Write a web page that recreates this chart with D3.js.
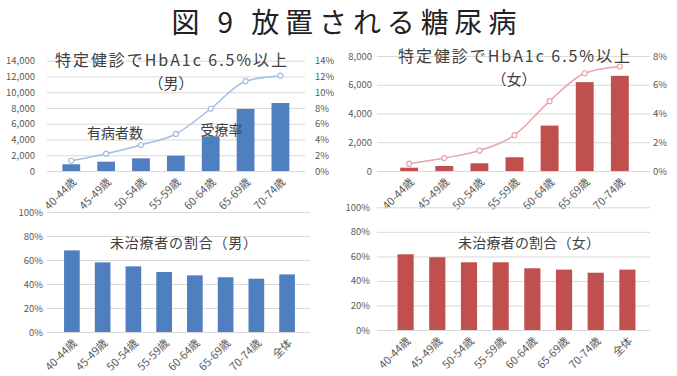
<!DOCTYPE html>
<html>
<head>
<meta charset="utf-8">
<script src="https://cdn.jsdelivr.net/npm/d3@7"></script>
<style>
  body { margin: 0; background: #fff; }
  text { font-family: "Noto Sans CJK JP", "Noto Sans", sans-serif; }
</style>
</head>
<body>
<script>
// ---- data ----
var ages7 = ["40-44歳","45-49歳","50-54歳","55-59歳","60-64歳","65-69歳","70-74歳"];
var ages8 = ["40-44歳","45-49歳","50-54歳","55-59歳","60-64歳","65-69歳","70-74歳","全体"];

var maleCount = [850, 1180, 1610, 1940, 4400, 7870, 8630];
var maleRate = [0.013, 0.022, 0.033, 0.047, 0.079, 0.114, 0.121];
var femaleCount = [230, 350, 535, 955, 3160, 6180, 6620];
var femaleRate = [0.0051, 0.009, 0.0142, 0.0249, 0.0486, 0.068, 0.0727];

var maleUntreated = [0.68, 0.58, 0.547, 0.50, 0.472, 0.456, 0.444, 0.48];
var femaleUntreated = [0.617, 0.593, 0.552, 0.552, 0.503, 0.492, 0.467, 0.492];

var BLUE = "#4f7fbf", RED = "#c0504d";
var BLUE_LINE = "#a3bde6", RED_LINE = "#e8a3a8";
var GRID = "#d9d9d9", TICK = "#595959";

var W = 677, H = 376;
var svg = d3.select("body").append("svg").attr("width", W).attr("height", H);

svg.append("text").attr("x", 344).attr("y", 33)
    .attr("text-anchor", "middle").attr("font-size", 28)
    .attr("textLength", 345).attr("fill", "#222")
    .text("図 9 放置される糖尿病");

//==============================================================================

function styleAxis(g) {
    g.select(".domain").remove();
    g.selectAll(".tick line").attr("stroke", GRID).attr("stroke-width", 1);
    g.selectAll(".tick text").attr("fill", TICK).attr("font-size", 9.5);
}

function styleXAxis(g) {
    g.select(".domain").remove();
    g.selectAll(".tick text").attr("fill", TICK).attr("font-size", 11)
        .attr("text-anchor", "end").attr("dy", "0.35em")
        .attr("transform", "translate(3,9) rotate(-45)");
}

function drawCombo(p) {
    var x = d3.scaleBand().domain(ages7).range(p.xr).padding(0.49);
    var yL = d3.scaleLinear().domain([0, p.maxL]).range([p.y0, p.y1]);
    var yR = d3.scaleLinear().domain([0, p.maxR]).range([p.y0, p.y1]);
    var gw = p.gx[1] - p.gx[0];

    var gl = svg.append("g").attr("transform", "translate(" + p.gx[0] + ",0)")
        .call(d3.axisLeft(yL).ticks(p.maxL / 2000).tickSize(-gw).tickPadding(p.padL).tickFormat(d3.format(",")));
    styleAxis(gl);

    var gr = svg.append("g").attr("transform", "translate(" + p.gx[1] + ",0)")
        .call(d3.axisRight(yR).ticks(p.maxR / 0.02).tickSize(0).tickPadding(p.padR).tickFormat(d3.format(".0%")));
    styleAxis(gr);

    svg.append("g").selectAll("rect").data(p.counts).join("rect")
        .attr("x", function(d, i) { return x(ages7[i]); })
        .attr("y", function(d) { return yL(d); })
        .attr("width", x.bandwidth())
        .attr("height", function(d) { return p.y0 - yL(d); })
        .attr("fill", p.color);

    var line = d3.line()
        .x(function(d, i) { return x(ages7[i]) + x.bandwidth() / 2; })
        .y(function(d) { return yR(d); })
        .curve(d3.curveMonotoneX);
    svg.append("path").datum(p.rates).attr("d", line)
        .attr("fill", "none").attr("stroke", p.lineColor).attr("stroke-width", 1.5);
    svg.append("g").selectAll("circle").data(p.rates).join("circle")
        .attr("cx", function(d, i) { return x(ages7[i]) + x.bandwidth() / 2; })
        .attr("cy", function(d) { return yR(d); })
        .attr("r", 2.5).attr("fill", "#fff").attr("stroke", p.lineColor).attr("stroke-width", 1.2);

    var gx = svg.append("g").attr("transform", "translate(0," + p.y0 + ")")
        .call(d3.axisBottom(x).tickSize(0).tickPadding(0));
    styleXAxis(gx);

    svg.append("text").attr("x", p.tx).attr("y", p.ty).attr("text-anchor", "middle")
        .attr("font-size", 16).attr("textLength", 232).attr("fill", "#404040")
        .text("特定健診でHbA1c 6.5%以上");
    svg.append("text").attr("x", p.tx).attr("y", p.ty + 23).attr("text-anchor", "middle")
        .attr("font-size", 15).attr("fill", "#404040").text(p.sub);
}

function drawRatio(p) {
    var x = d3.scaleBand().domain(ages8).range(p.xr).padding(0.49);
    var y = d3.scaleLinear().domain([0, 1]).range([p.y0, p.y1]);
    var gw = p.gx[1] - p.gx[0];

    var gl = svg.append("g").attr("transform", "translate(" + p.gx[0] + ",0)")
        .call(d3.axisLeft(y).ticks(5).tickSize(-gw).tickPadding(p.padL).tickFormat(d3.format(".0%")));
    styleAxis(gl);

    svg.append("g").selectAll("rect").data(p.values).join("rect")
        .attr("x", function(d, i) { return x(ages8[i]); })
        .attr("y", function(d) { return y(d); })
        .attr("width", x.bandwidth())
        .attr("height", function(d) { return p.y0 - y(d); })
        .attr("fill", p.color);

    var gx = svg.append("g").attr("transform", "translate(0," + p.y0 + ")")
        .call(d3.axisBottom(x).tickSize(0).tickPadding(0));
    styleXAxis(gx);

    svg.append("text").attr("x", p.tx).attr("y", p.ty).attr("text-anchor", "middle")
        .attr("font-size", 14).attr("textLength", p.tl).attr("fill", "#404040")
        .text(p.title);
}

//==============================================================================

drawCombo({ xr: [45.3, 306.4], gx: [47, 305], y0: 171, y1: 60.7, maxL: 14000, maxR: 0.14,
    padL: 12, padR: 10, counts: maleCount, rates: maleRate, color: BLUE, lineColor: BLUE_LINE,
    tx: 171, ty: 66, sub: "（男）" });

drawCombo({ xr: [383, 646], gx: [377, 650], y0: 171, y1: 56, maxL: 8000, maxR: 0.08,
    padL: 5, padR: 3, counts: femaleCount, rates: femaleRate, color: RED, lineColor: RED_LINE,
    tx: 514, ty: 62, sub: "（女）" });

svg.append("text").attr("x", 115).attr("y", 138).attr("text-anchor", "middle")
    .attr("font-size", 14).attr("fill", "#404040").text("有病者数");
svg.append("text").attr("x", 221.5).attr("y", 135).attr("text-anchor", "middle")
    .attr("font-size", 14).attr("fill", "#404040").text("受療率");

drawRatio({ xr: [49, 310], gx: [47, 310], y0: 332, y1: 212, padL: 4,
    values: maleUntreated, color: BLUE, tx: 183.5, ty: 247.5, tl: 147, title: "未治療者の割合（男）" });

drawRatio({ xr: [382, 651], gx: [377, 650], y0: 330, y1: 207.3, padL: 7,
    values: femaleUntreated, color: RED, tx: 529, ty: 247.5, tl: 142, title: "未治療者の割合（女）" });
</script>
</body>
</html>
